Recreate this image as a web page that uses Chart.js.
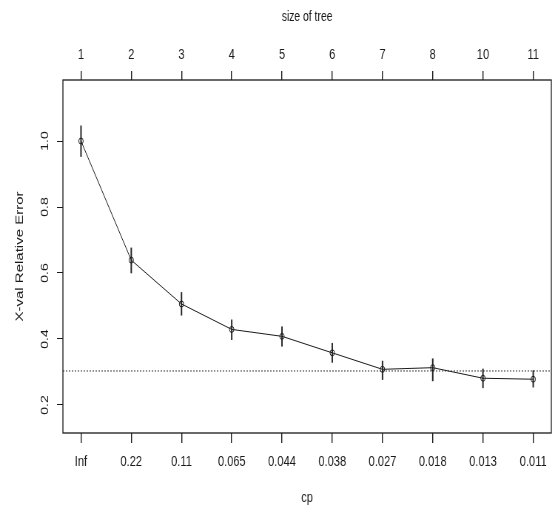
<!DOCTYPE html>
<html>
<head>
<meta charset="utf-8">
<title>cp plot</title>
<script src="https://cdn.jsdelivr.net/npm/chart.js@4.4.1/dist/chart.umd.min.js"></script>
<style>
  html, body { margin: 0; padding: 0; background: #fff; overflow: hidden; }
  /* the original picture is an R plot squeezed sideways, so draw wide and squeeze */
  #wrap { width: 750px; height: 508px; transform: scaleX(0.74); transform-origin: 0 0; }
</style>
</head>
<body>
<div id="wrap"><canvas id="cpChart" width="750" height="508"></canvas></div>
<script>
// --- data ---
const splitIndex = [1, 2, 3, 4, 5, 6, 7, 8, 9, 10];
const sizeLabels = ['1', '2', '3', '4', '5', '6', '7', '8', '10', '11'];
const cpLabels = ['Inf', '0.22', '0.11', '0.065', '0.044', '0.038', '0.027', '0.018', '0.013', '0.011'];
const xerror = [1.000, 0.639, 0.506, 0.429, 0.408, 0.358, 0.308, 0.313, 0.281, 0.278];
const xlower = [0.953, 0.600, 0.472, 0.398, 0.378, 0.329, 0.277, 0.273, 0.252, 0.254];
const xupper = [1.046, 0.676, 0.541, 0.458, 0.437, 0.387, 0.333, 0.340, 0.309, 0.304];
const yTicks = [0.2, 0.4, 0.6, 0.8, 1.0];
const minLine = 0.303;   // dotted 1-SE line
const xMin = 0.64, xMax = 10.36;
const yMin = 0.115, yMax = 1.185;

const ink = '#1a1a1a';

// --- box around the plot region ---
const frame = {
    id: 'frame',
    afterDraw(chart) {
        const { ctx, chartArea: a } = chart;
        ctx.save();
        ctx.strokeStyle = ink;
        ctx.lineWidth = 1.3;
        ctx.strokeRect(a.left, a.top, a.right - a.left, a.bottom - a.top);
        ctx.restore();
    }
};

const fixTicks = values => scale => { scale.ticks = values.map(v => ({ value: v })); };

const ctx = document.getElementById('cpChart').getContext('2d');
new Chart(ctx, {
    type: 'line',
    data: {
        datasets: [
            {
                label: 'X-val Relative Error',
                data: splitIndex.map((x, i) => ({ x: x, y: xerror[i] })),
                borderColor: ink,
                borderWidth: 1,
                pointRadius: 3,
                pointBorderWidth: 1,
                pointBackgroundColor: 'rgba(0,0,0,0)',
                pointBorderColor: ink,
                tension: 0
            },
            {
                type: 'bar',
                label: 'error bars',
                data: splitIndex.map((x, i) => ({ x: x, y: [xlower[i], xupper[i]] })),
                backgroundColor: '#222',
                borderWidth: 0,
                barThickness: 1.3
            },
            {
                label: 'min + 1 SE',
                data: [{ x: xMin, y: minLine }, { x: xMax, y: minLine }],
                borderColor: '#333',
                borderWidth: 1,
                borderDash: [2, 2],
                pointRadius: 0
            }
        ]
    },
    options: {
        responsive: false,
        animation: false,
        layout: { padding: { left: 0, right: 2, top: 0, bottom: 0 } },
        plugins: {
            legend: { display: false },
            tooltip: { enabled: false }
        },
        scales: {
            x: {
                type: 'linear',
                position: 'bottom',
                min: xMin,
                max: xMax,
                offset: false,
                afterBuildTicks: fixTicks(splitIndex),
                afterFit: s => { s.height = 75; },
                grid: { offset: false, drawOnChartArea: false, drawTicks: true, tickLength: 10, tickColor: ink, lineWidth: 1.4 },
                border: { display: false },
                ticks: {
                    color: ink,
                    font: { family: 'Liberation Sans', size: 15 },
                    padding: 10,
                    maxRotation: 0,
                    autoSkip: false,
                    callback: v => cpLabels[splitIndex.indexOf(v)]
                },
                title: {
                    display: true,
                    text: 'cp',
                    color: ink,
                    font: { family: 'Liberation Sans', size: 15 },
                    padding: { top: 0, bottom: 1 }
                }
            },
            xTop: {
                type: 'linear',
                position: 'top',
                min: xMin,
                max: xMax,
                offset: false,
                afterBuildTicks: fixTicks(splitIndex),
                afterFit: s => { s.height = 80; },
                grid: { offset: false, drawOnChartArea: false, drawTicks: true, tickLength: 9, tickColor: ink, lineWidth: 1.4 },
                border: { display: false },
                ticks: {
                    color: ink,
                    font: { family: 'Liberation Sans', size: 15 },
                    padding: 7,
                    maxRotation: 0,
                    autoSkip: false,
                    callback: v => sizeLabels[splitIndex.indexOf(v)]
                },
                title: {
                    display: true,
                    text: 'size of tree',
                    color: ink,
                    font: { family: 'Liberation Sans', size: 14 },
                    padding: { top: 9, bottom: 0 }
                }
            },
            y: {
                type: 'linear',
                position: 'left',
                min: yMin,
                max: yMax,
                afterBuildTicks: fixTicks(yTicks),
                afterFit: s => { s.width = 85; },
                grid: { drawOnChartArea: false, drawTicks: true, tickLength: 8, tickColor: ink, lineWidth: 1 },
                border: { display: false },
                ticks: {
                    color: ink,
                    font: { family: 'Liberation Sans', size: 14 },
                    minRotation: 90,
                    maxRotation: 90,
                    crossAlign: 'center',
                    padding: 6,
                    callback: v => v.toFixed(1)
                },
                title: {
                    display: true,
                    text: 'X-val Relative Error',
                    color: ink,
                    font: { family: 'Liberation Sans', size: 15 },
                    padding: { top: 18, bottom: 0 }
                }
            }
        }
    },
    plugins: [frame]
});
</script>
</body>
</html>
